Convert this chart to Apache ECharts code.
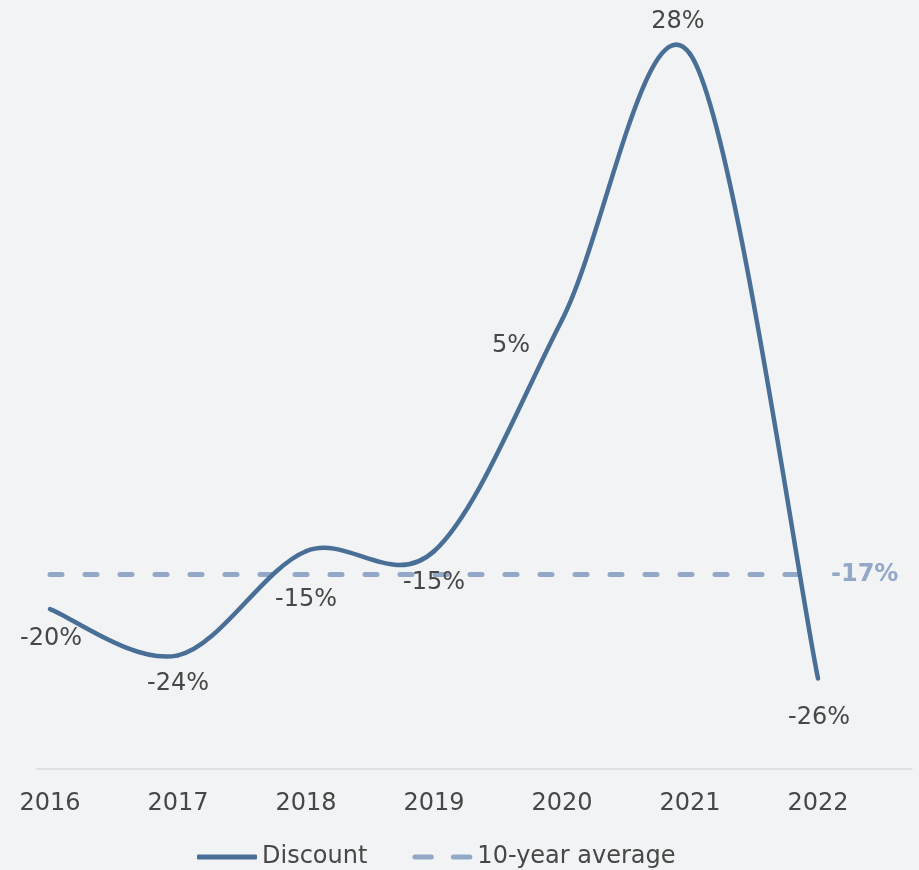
<!DOCTYPE html>
<html>
<head>
<meta charset="utf-8">
<script src="https://cdn.jsdelivr.net/npm/echarts@6/dist/echarts.min.js"></script>
<style>
  html, body { margin: 0; padding: 0; background: #f1f3f5; }
  #chart { width: 919px; height: 870px; }
</style>
</head>
<body>
<div id="chart"></div>
<script>
// Years on the horizontal axis
const years = ['2016', '2017', '2018', '2019', '2020', '2021', '2022'];
// Discount per year, in percent
const discount = [-20, -24, -15, -15, 5, 28, -26];
// Long-run average discount, in percent
const averageValue = -17;
const average = years.map(() => averageValue);

// Where each value label sits relative to its point, in pixels
const labelOffsets = [[1, 30], [0, 28], [0, 49], [0, 32], [-51, 26], [-12, -32], [1, 39]];

const font = 'DejaVu Sans';
const lineColor = '#4a6f96';
const avgColor = '#93a8c6';
const textColor = '#474747';

// Cardinal (Catmull-Rom) smoothing: each data item draws the curve
// segment to the next year, plus its own value label.
function renderDiscount(params, api) {
  const i = params.dataIndex;
  const n = discount.length;
  const pt = j => {
    const k = Math.max(0, Math.min(n - 1, j));
    return api.coord([k, discount[k]]);
  };
  const children = [];
  const p1 = pt(i);
  if (i < n - 1) {
    const p0 = pt(i - 1), p2 = pt(i + 1), p3 = pt(i + 2);
    children.push({
      type: 'bezierCurve',
      shape: {
        x1: p1[0], y1: p1[1], x2: p2[0], y2: p2[1],
        cpx1: p1[0] + (p2[0] - p0[0]) / 6, cpy1: p1[1] + (p2[1] - p0[1]) / 6,
        cpx2: p2[0] - (p3[0] - p1[0]) / 6, cpy2: p2[1] - (p3[1] - p1[1]) / 6
      },
      style: { stroke: lineColor, lineWidth: 4.5, fill: null, lineCap: 'round' }
    });
  }
  const off = labelOffsets[i];
  children.push({
    type: 'text',
    style: {
      text: discount[i] + '%', x: p1[0] + off[0], y: p1[1] + off[1],
      fill: textColor, font: '24px "' + font + '"',
      align: 'center', verticalAlign: 'middle'
    }
  });
  return { type: 'group', children: children };
}

const chart = echarts.init(document.getElementById('chart'));

chart.setOption({
  backgroundColor: '#f1f3f5',
  animation: false,
  textStyle: { fontFamily: font },
  grid: [
    { left: 50, right: 101, top: 25, bottom: 99 },
    { left: 37, right: 7, top: 25, bottom: 101 }
  ],
  xAxis: [
    {
      type: 'category', data: years, boundaryGap: false, gridIndex: 0,
      axisLine: { show: false }, axisTick: { show: false },
      axisLabel: { color: textColor, fontSize: 24, margin: 21, fontFamily: font }
    },
    {
      type: 'value', gridIndex: 1, min: 0, max: 1,
      axisLine: { show: true, lineStyle: { color: '#d9d9d9', width: 1.5 } },
      axisTick: { show: false }, axisLabel: { show: false }, splitLine: { show: false }
    }
  ],
  yAxis: [
    { type: 'value', gridIndex: 0, min: -34, max: 30.5, show: false, splitLine: { show: false } },
    { type: 'value', gridIndex: 1, min: 0, max: 1, show: false }
  ],
  legend: {
    top: 845, left: 197, padding: 0, itemWidth: 60, itemHeight: 5, itemGap: 45,
    symbolKeepAspect: false,
    textStyle: { color: textColor, fontSize: 24, fontFamily: font },
    data: [
      { name: 'Discount', icon: 'roundRect', itemStyle: { color: lineColor } },
      {
        name: '10-year average',
        icon: 'path://M2.5,0H19A2.5,2.5,0,0,1,19,5H2.5A2.5,2.5,0,0,1,2.5,0ZM41,0H57.5A2.5,2.5,0,0,1,57.5,5H41A2.5,2.5,0,0,1,41,0Z',
        itemStyle: { color: avgColor },
        lineStyle: { color: avgColor, width: 5, type: [19, 15], cap: 'butt' }
      }
    ]
  },
  series: [
    {
      name: '10-year average', type: 'line', xAxisIndex: 0, yAxisIndex: 0,
      data: average, symbol: 'none', z: 1,
      lineStyle: { color: avgColor, width: 5, type: [12, 23], cap: 'round' },
      itemStyle: { color: avgColor },
      endLabel: {
        show: true, formatter: averageValue + '%', color: avgColor,
        fontSize: 24, fontWeight: 'bold', distance: 13, fontFamily: font
      }
    },
    {
      name: 'Discount', type: 'custom', xAxisIndex: 0, yAxisIndex: 0,
      data: discount.map((v, i) => [i, v]),
      encode: { x: 0, y: 1 },
      renderItem: renderDiscount,
      itemStyle: { color: lineColor },
      z: 2
    }
  ]
});
</script>
</body>
</html>
